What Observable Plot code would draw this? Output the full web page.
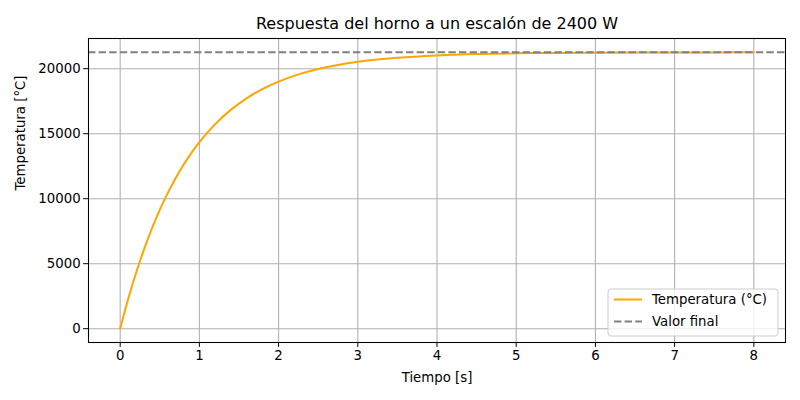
<!DOCTYPE html>
<html>
<head>
<meta charset="utf-8">
<script src="https://cdn.jsdelivr.net/npm/d3@7"></script>
<script src="https://cdn.jsdelivr.net/npm/@observablehq/plot@0.6"></script>
<style>
  html, body { margin: 0; padding: 0; background: #fff; }
  #chart svg { display: block; }
</style>
</head>
<body>
<div id="chart"></div>
<script>
const titleText = "Respuesta del horno a un escalón de 2400 W";
const xLabel = "Tiempo [s]";
const yLabel = "Temperatura [°C]";
const seriesNames = ["Temperatura (°C)", "Valor final"];

const tiempo = [0, 0.1, 0.2, 0.3, 0.4, 0.5, 0.6, 0.7, 0.8, 0.9, 1.0, 1.2, 1.4, 1.6, 1.8, 2.0, 2.25, 2.5, 2.75, 3.0, 3.5, 4.0, 4.5, 5.0, 5.5, 6.0, 6.5, 7.0, 7.5, 8.0];
const temperatura = [0, 2260, 4280, 6085, 7700, 9140, 10430, 11580, 12610, 13530, 14350, 15740, 16850, 17740, 18450, 19010, 19560, 19980, 20290, 20530, 20840, 21020, 21125, 21185, 21215, 21235, 21245, 21250, 21255, 21257];
const valorFinal = [21260];
const xTicks = [0, 1, 2, 3, 4, 5, 6, 7, 8];
const yTicks = [0, 5000, 10000, 15000, 20000];

const data = tiempo.map((t, i) => ({t, T: temperatura[i]}));
const font = "DejaVu Sans, sans-serif";
const fmt = d => String(d);

const plot = Plot.plot({
  width: 800,
  height: 400,
  marginLeft: 88,
  marginRight: 15,
  marginTop: 38,
  marginBottom: 58,
  style: {fontFamily: font, fontSize: "13.3px", background: "#fff", color: "#000"},
  x: {domain: [-0.4, 8.4]},
  y: {domain: [-1063, 22323]},
  marks: [
    Plot.gridX(xTicks, {stroke: "#b0b0b0", strokeOpacity: 1, strokeWidth: 1.07}),
    Plot.gridY(yTicks, {stroke: "#b0b0b0", strokeOpacity: 1, strokeWidth: 1.07}),
    Plot.line(data, {x: "t", y: "T", stroke: "orange", strokeWidth: 2, curve: "monotone-x"}),
    Plot.ruleY(valorFinal, {stroke: "gray", strokeWidth: 2, strokeDasharray: "7.4,3.2"}),
    Plot.frame({stroke: "#000", strokeWidth: 1.07}),
    Plot.axisX(xTicks, {tickSize: 4.9, tickPadding: 3, fontSize: 13.3, label: null, tickFormat: fmt}),
    Plot.axisY(yTicks, {tickSize: 4.9, tickPadding: 3, fontSize: 13.3, label: null, tickFormat: fmt}),
    Plot.text([titleText], {frameAnchor: "top", dy: -15, fontSize: 16, lineAnchor: "middle", fill: "#000"}),
    Plot.text([xLabel], {frameAnchor: "bottom", dy: 35, fontSize: 13.3, lineAnchor: "middle", fill: "#000"}),
    Plot.text([yLabel], {frameAnchor: "left", dx: -68, rotate: -90, fontSize: 13.3, lineAnchor: "middle", fill: "#000"})
  ]
});

document.getElementById("chart").appendChild(plot);

// Legend (lower right, matplotlib style)
const svg = d3.select(plot);
const lg = svg.append("g").attr("transform", "translate(608,289)")
  .attr("font-family", font).attr("font-size", "13.3px").attr("text-anchor", "start");
lg.append("rect").attr("x", 0).attr("y", 0).attr("width", 170).attr("height", 47)
  .attr("rx", 3).attr("fill", "#fff").attr("fill-opacity", 0.8).attr("stroke", "#cccccc").attr("stroke-width", 1);
const entries = [
  {name: seriesNames[0], stroke: "orange", dash: "none"},
  {name: seriesNames[1], stroke: "gray", dash: "7.4,3.2"}
];
entries.forEach((e, i) => {
  const y = 10.5 + i * 22;
  lg.append("line").attr("x1", 6).attr("x2", 34).attr("y1", y).attr("y2", y)
    .attr("stroke", e.stroke).attr("stroke-width", 2).attr("stroke-dasharray", e.dash);
  lg.append("text").attr("x", 44).attr("y", y).attr("dy", "0.35em")
    .attr("text-anchor", "start").attr("fill", "#000").text(e.name);
});
</script>
</body>
</html>
